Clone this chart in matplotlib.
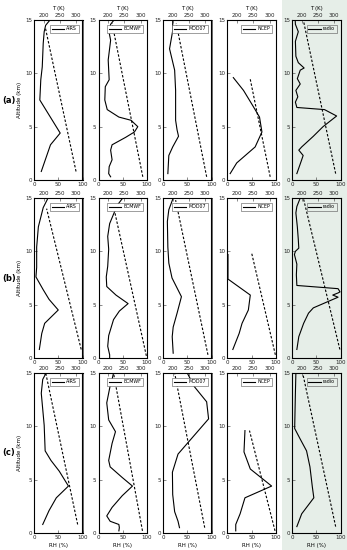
import matplotlib
matplotlib.use("Agg")
import matplotlib.pyplot as plt
from matplotlib.patches import Rectangle

row_labels = ["(a)", "(b)", "(c)"]
sources = ["AIRS", "ECMWF", "MOD07", "NCEP", "radio"]

rh_ticks = [0, 50, 100]
t_ticks = [200, 250, 300]
alt_ticks = [0, 5, 10, 15]

# ---- row (a) ----
a_airs_z = [0.8, 3.3, 4.4, 7.5, 9.4, 10.6, 12.8, 13.9, 14.5, 15.0]
a_airs_rh = [15, 34, 54, 12, 14, 17, 19, 21, 24, 33]
a_airs_tz = [0.8, 14.3]
a_airs_t = [300, 205]

a_ecmwf_z = [0.3, 0.6, 1.25, 1.9, 2.8, 3.3, 4.0, 4.5, 5.0, 5.6, 5.9, 6.6, 7.5, 8.75, 9.4, 11.25, 13.1, 13.8, 14.6, 15.0]
a_ecmwf_rh = [25, 21, 22, 28, 25, 28, 56, 74, 81, 67, 42, 18, 13, 14, 22, 20, 25, 22, 25, 32]
a_ecmwf_tz = [0.3, 14.7]
a_ecmwf_t = [307, 212]

a_mod07_z = [0.6, 2.3, 3.1, 4.1, 4.7, 5.6, 8.4, 10.3, 12.3, 14.0, 15.0]
a_mod07_rh = [10, 12, 20, 32, 29, 26, 26, 24, 13.5, 20, 20]
a_mod07_tz = [0.3, 14.7]
a_mod07_t = [305, 211]

a_ncep_z = [0.6, 1.6, 3.1, 4.5, 5.9, 6.9, 8.4, 9.6]
a_ncep_rh = [5.5, 19, 57, 71, 66, 53, 33, 12]
a_ncep_tz = [0.3, 9.5]
a_ncep_t = [302, 240]

a_radio_z = [0.6, 1.9, 2.3, 2.8, 3.1, 4.1, 5.0, 6.0, 6.6, 6.8, 7.3, 7.8, 8.4, 9.0, 9.5, 10.3, 10.5, 11.0, 11.6, 13.0, 13.9, 14.6, 15.0]
a_radio_rh = [10, 20, 23, 14, 20, 44, 64, 92, 67, 10, 7, 12, 8, 17, 11, 17, 25, 13, 8, 7, 13, 7, 6.6]
a_radio_tz = [0.6, 15.0]
a_radio_t = [305, 205]

# ---- row (b) ----
b_airs_z = [0.8, 2.3, 3.25, 4.5, 5.5, 6.4, 7.6, 8.5, 10.4, 12.3, 14.1, 15.0]
b_airs_rh = [11, 16, 22, 50, 31, 19, 4, 5.5, 5.5, 9, 19, 29]
b_airs_tz = [0.8, 14.0]
b_airs_t = [316, 209]

b_ecmwf_z = [0.0, 0.3, 1.1, 2.1, 3.6, 4.4, 5.1, 5.9, 6.7, 7.6, 8.6, 10.2, 11.4, 12.6, 13.7, 14.4, 15.0]
b_ecmwf_rh = [23, 23, 19, 21, 31, 43, 61, 36, 17, 16, 19, 21, 19, 23, 33, 40, 50]
b_ecmwf_tz = [0.2, 14.0]
b_ecmwf_t = [318, 218]

b_mod07_z = [0.45, 2.0, 2.9, 4.2, 5.75, 7.5, 8.9, 10.4, 12.8, 13.9, 15.0]
b_mod07_rh = [21, 19, 21, 29, 38, 18.6, 12, 10, 9, 12, 21]
b_mod07_tz = [0.3, 14.8]
b_mod07_t = [309, 209]

b_ncep_z = [0.8, 2.3, 3.25, 4.5, 5.9, 7.4, 9.7]
b_ncep_rh = [11, 24, 30, 43, 47, 1, 1]
b_ncep_tz = [0.3, 9.8]
b_ncep_t = [318, 245]

b_radio_z = [0.8, 2.0, 3.25, 4.2, 4.7, 5.7, 5.9, 6.1, 6.2, 6.5, 6.8, 7.8, 8.8, 9.7, 10.0, 10.3, 11.1, 12.3, 13.6, 14.2, 15.0]
b_radio_rh = [10, 14, 24, 34, 44, 95, 84, 95, 99, 95, 10, 9, 10, 5, 7, 14, 13, 11, 8, 10, 17]
b_radio_tz = [0.8, 15.0]
b_radio_t = [318, 205]

# ---- row (c) ----
c_airs_z = [0.8, 2.1, 3.3, 4.4, 5.8, 6.8, 7.7, 10.1, 11.6, 13.1, 14.4, 15.0]
c_airs_rh = [18, 31, 46, 71, 52, 35, 23, 21, 18, 15, 18, 25]
c_airs_tz = [0.8, 14.9]
c_airs_t = [305, 207]

c_ecmwf_z = [0.2, 0.5, 0.8, 1.1, 1.6, 2.4, 3.5, 4.4, 5.2, 6.2, 6.8, 8.4, 9.5, 10.6, 12.2, 13.8, 14.4, 15.0]
c_ecmwf_rh = [42, 43, 42, 24, 17, 28, 49, 70, 49, 24, 21, 28, 35, 21, 17, 24, 28, 31]
c_ecmwf_tz = [0.2, 14.9]
c_ecmwf_t = [306, 217]

c_mod07_z = [0.5, 1.1, 2.0, 3.6, 5.7, 7.4, 8.5, 10.7, 12.3, 13.7, 15.0]
c_mod07_rh = [34, 31, 24, 20, 19.4, 31, 52, 94, 90, 65, 50]
c_mod07_tz = [0.5, 15.0]
c_mod07_t = [299, 206]

c_ncep_z = [0.2, 0.8, 1.8, 3.3, 4.4, 6.0, 7.6, 9.6]
c_ncep_rh = [17, 17, 26, 36, 91, 47, 34, 36]
c_ncep_tz = [0.2, 9.6]
c_ncep_t = [317, 238]

c_radio_z = [0.6, 1.8, 3.3, 4.3, 6.2, 7.7, 8.8, 9.8, 13.1, 15.0]
c_radio_rh = [10, 20, 45, 42, 37, 30, 17, 5.5, 7, 8]
c_radio_tz = [0.6, 15.0]
c_radio_t = [305, 203]

panels = [
    [(a_airs_z, a_airs_rh, a_airs_tz, a_airs_t),
     (a_ecmwf_z, a_ecmwf_rh, a_ecmwf_tz, a_ecmwf_t),
     (a_mod07_z, a_mod07_rh, a_mod07_tz, a_mod07_t),
     (a_ncep_z, a_ncep_rh, a_ncep_tz, a_ncep_t),
     (a_radio_z, a_radio_rh, a_radio_tz, a_radio_t)],
    [(b_airs_z, b_airs_rh, b_airs_tz, b_airs_t),
     (b_ecmwf_z, b_ecmwf_rh, b_ecmwf_tz, b_ecmwf_t),
     (b_mod07_z, b_mod07_rh, b_mod07_tz, b_mod07_t),
     (b_ncep_z, b_ncep_rh, b_ncep_tz, b_ncep_t),
     (b_radio_z, b_radio_rh, b_radio_tz, b_radio_t)],
    [(c_airs_z, c_airs_rh, c_airs_tz, c_airs_t),
     (c_ecmwf_z, c_ecmwf_rh, c_ecmwf_tz, c_ecmwf_t),
     (c_mod07_z, c_mod07_rh, c_mod07_tz, c_mod07_t),
     (c_ncep_z, c_ncep_rh, c_ncep_tz, c_ncep_t),
     (c_radio_z, c_radio_rh, c_radio_tz, c_radio_t)],
]

W, H = 347, 550
fig = plt.figure(figsize=(W / 100, H / 100), dpi=100)
fig.patches.append(Rectangle((282 / W, 0), 65 / W, 1, transform=fig.transFigure,
                             facecolor="#e6eee8", edgecolor="none", zorder=-5))

col_left = [34 + 64.5 * i for i in range(5)]
col_w = 48.5
row_top = [20, 198, 373]
row_h = 160
spine_c = "#333333"
fs = 4.0

for r in range(3):
    for c in range(5):
        z, rh, tz, t = panels[r][c]
        rect = [col_left[c] / W, 1 - (row_top[r] + row_h) / H, col_w / W, row_h / H]
        ax = fig.add_axes(rect)
        ax.set_facecolor("none")
        line, = ax.plot(rh, z, "k-", lw=0.8, label=sources[c])
        ax.set_xlim(0, 100)
        ax.set_ylim(0, 15)
        ax.set_xticks(rh_ticks)
        ax.set_yticks(alt_ticks)
        ax.tick_params(direction="in", length=2, width=0.4, labelsize=fs, pad=1.5,
                       colors=spine_c, labelcolor="#222222")
        for s in ax.spines.values():
            s.set_linewidth(0.5)
            s.set_color(spine_c)

        ax2 = ax.twiny()
        ax2.set_facecolor("none")
        ax2.plot(t, tz, "k--", lw=0.8, dashes=(2.2, 1.6))
        ax2.set_xlim(170, 320)
        ax2.set_xticks(t_ticks)
        ax2.tick_params(direction="in", length=2, width=0.4, labelsize=fs, pad=1.5,
                        colors=spine_c, labelcolor="#222222")
        leg = ax2.legend(handles=[line], loc="upper right", fontsize=3.4,
                         handlelength=2.6, handletextpad=0.5, borderpad=0.35,
                         fancybox=False, framealpha=1, edgecolor="#555555",
                         bbox_to_anchor=(0.97, 0.985))
        leg.get_frame().set_linewidth(0.4)
        if c == 4:
            leg.get_frame().set_facecolor("#e6eee8")

        if r == 0:
            ax2.set_xlabel("T (K)", fontsize=fs, labelpad=2)
        if r == 2:
            ax.set_xlabel("RH (%)", fontsize=fs, labelpad=2)
        if c == 0:
            ax.set_ylabel("Altitude (km)", fontsize=fs, labelpad=2)
            fig.text(9 / W, 1 - (row_top[r] + row_h / 2) / H, row_labels[r],
                     fontsize=6, fontweight="bold", ha="center", va="center")

fig.savefig("out.png", dpi=100)
